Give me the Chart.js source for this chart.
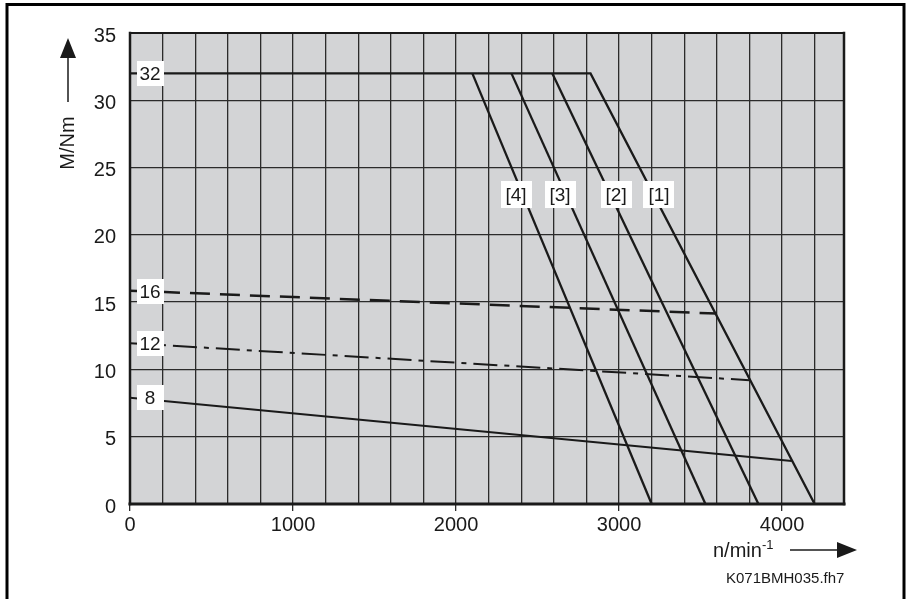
<!DOCTYPE html>
<html>
<head>
<meta charset="utf-8">
<script src="https://cdn.jsdelivr.net/npm/chart.js@4"></script>
<style>
  html, body { margin: 0; padding: 0; background: #ffffff; }
  #wrap { width: 907px; height: 599px; }
</style>
</head>
<body>
<div id="wrap"><canvas id="c" width="907" height="599"></canvas></div>
<script>
// ---- data ----
const xTickLabels = [0, 1000, 2000, 3000, 4000];
const yTickLabels = [0, 5, 10, 15, 20, 25, 30, 35];
const xGridStep = 200;   // minor vertical grid every 200 1/min
const xGridLast = 4200;

// torque limit curves [1]..[4]  (speed n, torque M)
const curve1 = [{x: 0, y: 32}, {x: 2825, y: 32}, {x: 4200, y: 0}];
const curve2 = [{x: 2590, y: 32}, {x: 3855, y: 0}];
const curve3 = [{x: 2340, y: 32}, {x: 3530, y: 0}];
const curve4 = [{x: 2100, y: 32}, {x: 3200, y: 0}];

// load lines 16 (dashed), 12 (dash-dot), 8 (solid)
const line16 = [{x: 0, y: 15.85}, {x: 3600, y: 14.15}];
const line12 = [{x: 0, y: 11.95}, {x: 3800, y: 9.2}];
const line8  = [{x: 0, y: 7.9},  {x: 4060, y: 3.2}];

// labels in boxes
const curveLabelText = ['[1]', '[2]', '[3]', '[4]'];
const curveLabelX = [3245, 2982, 2638, 2368];
const curveLabelY = 23;
const levelLabelText = ['32', '16', '12', '8'];
const levelLabelY = [32, 15.8, 11.9, 7.9];

const FONT = '"Liberation Sans", Arial, Helvetica, sans-serif';
const INK = '#1a1a1a';

const overlay = {
  id: 'overlay',
  beforeDraw(chart) {
    const {ctx, chartArea: a} = chart;
    ctx.save();
    ctx.fillStyle = '#d3d4d6';
    ctx.fillRect(a.left, a.top, a.right - a.left, a.bottom - a.top);
    ctx.restore();
  },
  afterDatasetsDraw(chart) {
    const {ctx, chartArea: a, scales} = chart;
    const xs = scales.x, ys = scales.y;
    ctx.save();
    // frame of plot area
    ctx.strokeStyle = INK;
    ctx.lineCap = 'square';
    ctx.lineWidth = 2; ctx.beginPath(); ctx.moveTo(a.left, a.top); ctx.lineTo(a.right, a.top); ctx.stroke();
    ctx.lineWidth = 2.5; ctx.beginPath(); ctx.moveTo(a.right, a.top); ctx.lineTo(a.right, a.bottom); ctx.stroke();
    ctx.lineWidth = 2.5; ctx.beginPath(); ctx.moveTo(a.left, a.top); ctx.lineTo(a.left, a.bottom); ctx.stroke();
    ctx.lineWidth = 3; ctx.beginPath(); ctx.moveTo(a.left, a.bottom); ctx.lineTo(a.right, a.bottom); ctx.stroke();

    // label boxes
    ctx.font = '19px ' + FONT;
    ctx.textAlign = 'center';
    ctx.textBaseline = 'middle';
    function box(text, cx, cy, w, h) {
      ctx.fillStyle = '#ffffff';
      ctx.fillRect(Math.round(cx - w / 2), Math.round(cy - h / 2), w, h);
      ctx.fillStyle = INK;
      ctx.fillText(text, cx, cy + 1);
    }
    levelLabelText.forEach((t, i) => {
      box(t, a.left + 20, ys.getPixelForValue(levelLabelY[i]), 27, 25);
    });
    curveLabelText.forEach((t, i) => {
      box(t, xs.getPixelForValue(curveLabelX[i]), ys.getPixelForValue(curveLabelY), 31, 27);
    });

    // outer frame
    ctx.strokeStyle = '#000';
    ctx.lineWidth = 3;
    ctx.lineCap = 'butt';
    ctx.beginPath();
    ctx.moveTo(7, 599); ctx.lineTo(7, 4.5); ctx.lineTo(904, 4.5); ctx.lineTo(904, 599);
    ctx.stroke();

    // y axis title with arrow
    ctx.fillStyle = INK;
    ctx.strokeStyle = INK;
    ctx.beginPath();
    ctx.moveTo(68, 38); ctx.lineTo(60, 58); ctx.lineTo(76, 58); ctx.closePath(); ctx.fill();
    ctx.lineWidth = 1.5;
    ctx.beginPath(); ctx.moveTo(68, 56); ctx.lineTo(68, 102); ctx.stroke();
    ctx.save();
    ctx.translate(68, 143);
    ctx.rotate(-Math.PI / 2);
    ctx.font = '20px ' + FONT;
    ctx.textAlign = 'center';
    ctx.textBaseline = 'middle';
    ctx.fillText('M/Nm', 0, 0);
    ctx.restore();

    // x axis title with arrow
    ctx.font = '20px ' + FONT;
    ctx.textAlign = 'left';
    ctx.textBaseline = 'alphabetic';
    ctx.fillText('n/min', 713, 557);
    const w = ctx.measureText('n/min').width;
    ctx.font = '13px ' + FONT;
    ctx.fillText('-1', 713 + w, 549);
    ctx.lineWidth = 1.5;
    ctx.beginPath(); ctx.moveTo(790, 550); ctx.lineTo(839, 550); ctx.stroke();
    ctx.beginPath();
    ctx.moveTo(857, 550); ctx.lineTo(837, 542); ctx.lineTo(837, 558); ctx.closePath(); ctx.fill();

    // footnote
    ctx.font = '15px ' + FONT;
    ctx.fillText('K071BMH035.fh7', 726, 583);
    ctx.restore();
  }
};

function lineDs(data, width, dash) {
  return {
    data: data,
    showLine: true,
    borderColor: INK,
    borderWidth: width,
    borderDash: dash || [],
    pointRadius: 0,
    pointHoverRadius: 0,
    fill: false,
    tension: 0
  };
}

new Chart(document.getElementById('c'), {
  type: 'scatter',
  data: {
    datasets: [
      lineDs(curve1, 2.3),
      lineDs(curve2, 2.3),
      lineDs(curve3, 2.3),
      lineDs(curve4, 2.3),
      lineDs(line16, 2.5, [20, 10]),
      lineDs(line12, 2, [24, 7, 5, 7]),
      lineDs(line8, 2)
    ]
  },
  options: {
    responsive: false,
    animation: false,
    events: [],
    layout: { padding: { top: 33, right: 63, left: 0, bottom: 0 } },
    plugins: { legend: { display: false }, tooltip: { enabled: false } },
    scales: {
      x: {
        type: 'linear',
        min: 0,
        max: 4380,
        afterFit(s) { s.height = 95; },
        afterBuildTicks(s) {
          const t = [];
          for (let v = 0; v <= xGridLast; v += xGridStep) t.push({value: v});
          s.ticks = t;
        },
        border: { display: false },
        grid: {
          color: '#2b2b2b',
          lineWidth: 1.3,
          drawTicks: true,
          tickLength: 7,
          tickColor: (c) => (c.tick && xTickLabels.includes(c.tick.value)) ? '#2b2b2b' : 'rgba(0,0,0,0)'
        },
        ticks: {
          autoSkip: false,
          maxRotation: 0,
          padding: 2,
          color: INK,
          font: { family: FONT, size: 20 },
          callback: (v) => xTickLabels.includes(v) ? String(v) : ''
        }
      },
      y: {
        type: 'linear',
        min: 0,
        max: 35,
        afterFit(s) { s.width = 130; },
        border: { display: false },
        grid: { color: '#2b2b2b', lineWidth: 1.3, drawTicks: false },
        ticks: {
          stepSize: 5,
          padding: 14,
          labelOffset: 3,
          color: INK,
          font: { family: FONT, size: 20 },
          callback: (v) => yTickLabels.includes(v) ? String(v) : ''
        }
      }
    }
  },
  plugins: [overlay]
});
</script>
</body>
</html>
